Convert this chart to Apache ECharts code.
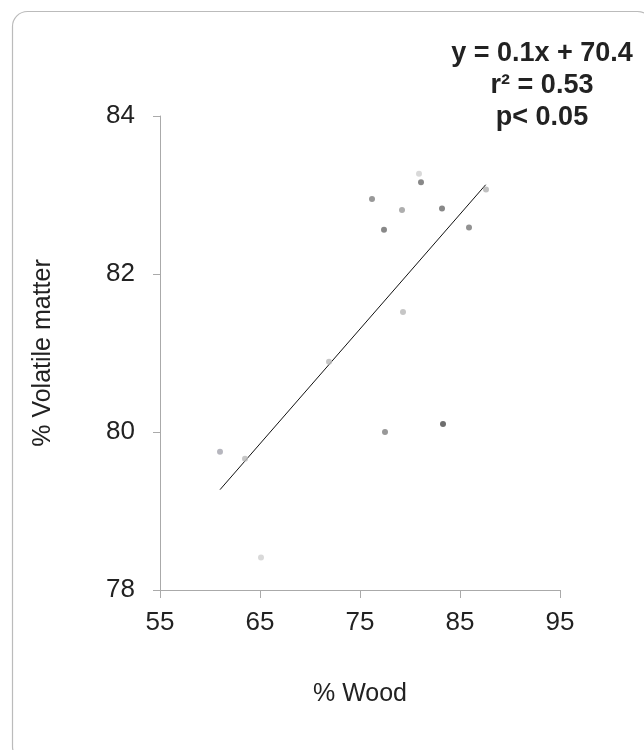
<!DOCTYPE html>
<html>
<head>
<meta charset="utf-8">
<script src="https://cdn.jsdelivr.net/npm/echarts@6/dist/echarts.min.js"></script>
<style>html,body{margin:0;padding:0;background:#fff}#c{width:644px;height:750px}</style>
</head>
<body>
<div id="c"></div>
<script>
var woodPct = [80.9, 81.1, 76.2, 79.2, 83.2, 77.4, 85.9, 87.6, 79.3, 71.9, 61.0, 63.5, 77.5, 83.3, 65.1];
var volatilePct = [83.27, 83.16, 82.95, 82.81, 82.83, 82.56, 82.59, 83.07, 81.52, 80.89, 79.75, 79.66, 80.00, 80.10, 78.41];
var pointShades = ['#cfcfcf', '#6a6a6a', '#7e7e7e', '#9a9a9a', '#6a6a6a', '#6a6a6a', '#777777', '#b0b0b0', '#b8b8b8', '#b8b8b8', '#a4a4ae', '#b8b8b8', '#7e7e7e', '#4a4a4a', '#d0d0d0'];
var trendX = [61.0, 87.57];
var trendY = [79.27, 83.13];
var xTicks = [55, 65, 75, 85, 95];
var yTicks = [78, 80, 82, 84];
var annotationLines = ['y = 0.1x + 70.4', 'r\u00b2 = 0.53', 'p< 0.05'];

var chart = echarts.init(document.getElementById('c'));
var font = '"Liberation Sans", Arial, sans-serif';
var scatterData = woodPct.map(function (x, i) {
  return { value: [x, volatilePct[i]], itemStyle: { color: pointShades[i] } };
});
var trendData = trendX.map(function (x, i) { return [x, trendY[i]]; });

chart.setOption({
  animation: false,
  backgroundColor: '#fff',
  grid: { left: 160, right: 84, top: 116, bottom: 160, containLabel: false },
  xAxis: {
    type: 'value', min: xTicks[0], max: xTicks[xTicks.length - 1], interval: 10,
    name: '% Wood', nameLocation: 'middle', nameGap: 92,
    nameTextStyle: { fontFamily: font, fontSize: 25, color: '#222' },
    axisLine: { show: true, lineStyle: { color: '#aaa', width: 1 } },
    axisTick: { show: true, length: 8, lineStyle: { color: '#aaa' } },
    axisLabel: { fontFamily: font, fontSize: 26, color: '#222', margin: 20 },
    splitLine: { show: false }
  },
  yAxis: {
    type: 'value', min: yTicks[0], max: yTicks[yTicks.length - 1], interval: 2,
    name: '% Volatile matter', nameLocation: 'middle', nameGap: 104, nameRotate: 90,
    nameTextStyle: { fontFamily: font, fontSize: 25, color: '#222' },
    axisLine: { show: true, lineStyle: { color: '#aaa', width: 1 } },
    axisTick: { show: true, length: 7, lineStyle: { color: '#aaa' } },
    axisLabel: { fontFamily: font, fontSize: 26, color: '#222', margin: 25 },
    splitLine: { show: false }
  },
  graphic: [
    {
      type: 'rect', left: 10, top: 9, silent: true,
      shape: { width: 640, height: 750, r: 15 },
      style: { fill: 'none', stroke: '#bbb', lineWidth: 1.2 }
    },
    {
      type: 'text', x: 542, y: 38, silent: true,
      style: {
        text: annotationLines.join('\n'), fontFamily: font, fontSize: 27, fontWeight: 'bold',
        fill: '#222', align: 'center', verticalAlign: 'top', lineHeight: 32
      }
    }
  ],
  series: [
    {
      type: 'scatter', data: scatterData, symbol: 'circle', symbolSize: 6, z: 3
    },
    {
      type: 'line', data: trendData, symbol: 'none', z: 2,
      lineStyle: { color: '#111', width: 1 }
    }
  ]
});
</script>
</body>
</html>
